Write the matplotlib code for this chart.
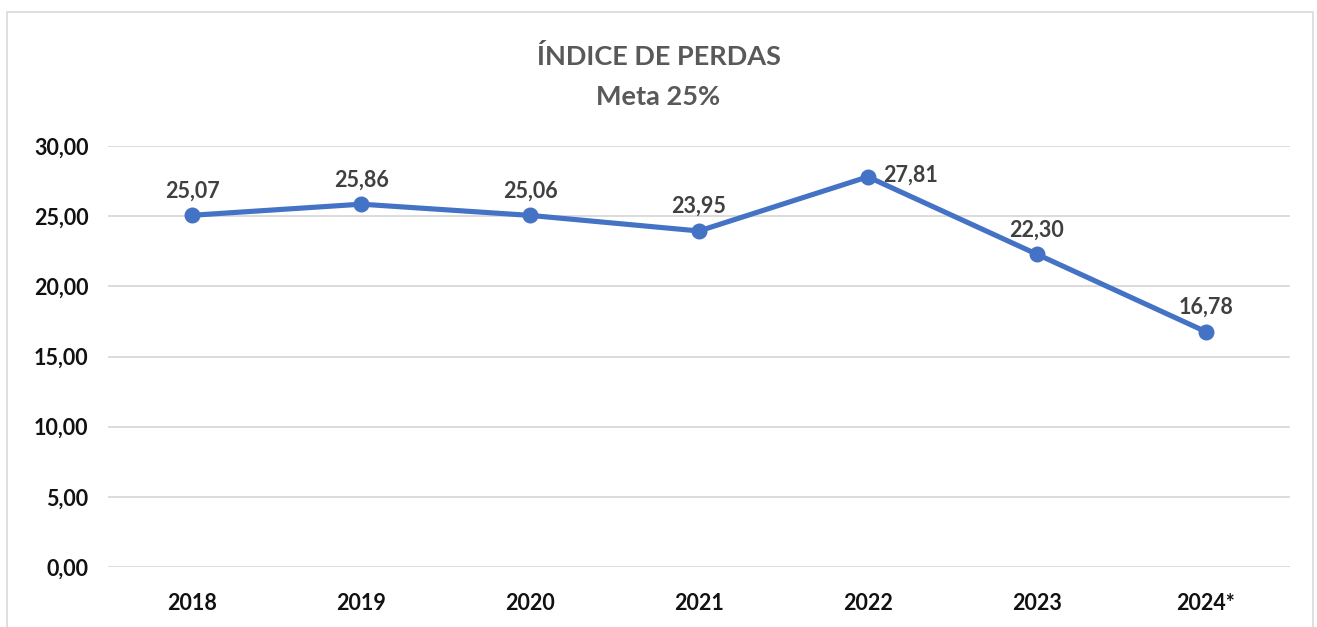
import matplotlib
matplotlib.use("Agg")
import matplotlib.pyplot as plt
from matplotlib.patches import Rectangle

categories = ["2018", "2019", "2020", "2021", "2022", "2023", "2024*"]
values = [25.07, 25.86, 25.06, 23.95, 27.81, 22.30, 16.78]
yticks = [0, 5, 10, 15, 20, 25, 30]
title_lines = ["ÍNDICE DE PERDAS", "Meta 25%"]

plt.rcParams['font.family'] = ['Lato', 'DejaVu Sans']

fig = plt.figure(figsize=(13.17, 6.27), dpi=100)
ax = fig.add_axes([0.082, 0.0957, 0.8975, 0.6713])

x = list(range(len(categories)))
ax.plot(x, values, color="#4472C4", lw=3.7, marker="o", markersize=10.5,
        solid_capstyle="round", zorder=3)

def fmt(v):
    return f"{v:.2f}".replace(".", ",")

for i, v in enumerate(values):
    if categories[i] == "2022":
        ax.annotate(fmt(v), (i, v), xytext=(11, 1), textcoords="offset points",
                    ha="left", va="center", fontsize=15.5, fontweight="bold", color="#404040")
    else:
        ax.annotate(fmt(v), (i, v), xytext=(0, 10), textcoords="offset points",
                    ha="center", va="bottom", fontsize=15.5, fontweight="bold", color="#404040")

ax.set_xlim(-0.5, len(categories) - 0.5)
ax.set_ylim(0, 30)
ax.set_yticks(yticks)
ax.set_yticklabels([fmt(t) for t in yticks], fontsize=15.5, fontweight="bold", color="#111111")
ax.set_xticks(x)
ax.set_xticklabels(categories, fontsize=15.5, fontweight="bold", color="#111111")
ax.tick_params(length=0)
ax.tick_params(axis="y", pad=14)
ax.tick_params(axis="x", pad=19)
ax.grid(axis="y", color="#D9D9D9", lw=1.3)
ax.set_axisbelow(True)
for s in ax.spines.values():
    s.set_visible(False)

fig.text(0.5, 0.91, title_lines[0], ha="center", va="center", fontsize=19.5,
         fontweight="bold", color="#595959")
fig.text(0.5, 0.845, title_lines[1], ha="center", va="center", fontsize=19.5,
         fontweight="bold", color="#595959")

fig.add_artist(Rectangle((7 / 1317, -0.01), 1306 / 1317, 1 - 12 / 627 + 0.01,
                         transform=fig.transFigure, fill=False, ec="#D9D9D9", lw=1.2))

fig.savefig("out.png", dpi=100)
